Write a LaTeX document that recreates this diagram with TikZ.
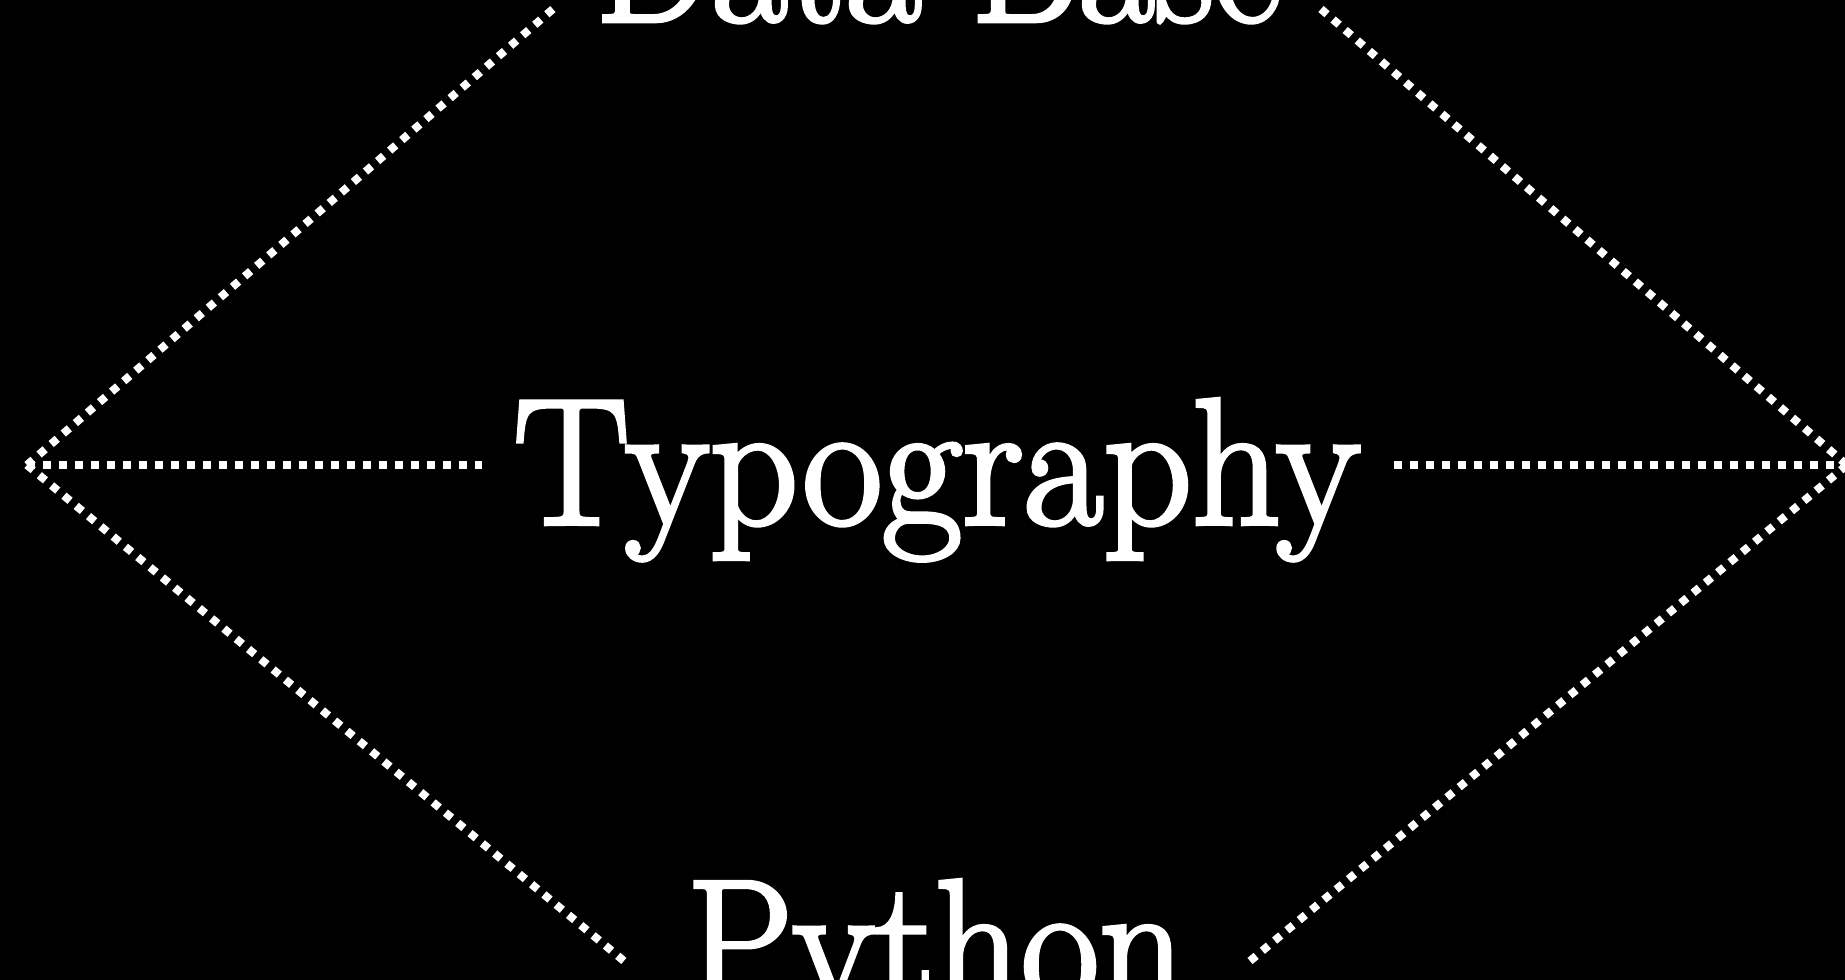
\documentclass[tikz,border=0pt]{standalone}
\usepackage{fontspec}
\newfontfamily\wordfont{Latin Modern Roman}[FakeBold=2.5]
\begin{document}
\begin{tikzpicture}[x=1pt,y=-1pt,
  dotline/.style={white,line width=8pt,dash pattern=on 8pt off 8pt,line cap=butt},
  word/.style={white,inner sep=0pt,anchor=base,font=\wordfont\fontsize{180}{200}\selectfont,transform shape}]
\fill[black] (0,0) rectangle (1845,980);
\useasboundingbox (0,0) rectangle (1845,980);
% text nodes
\node[word,xscale=0.965] (typo) at (937,524) {Typography};
\node[word,xscale=0.915] (db) at (938,21) {Data Base};
\node[word,xscale=0.94] (py) at (936,1005) {Python};
% apexes and line ends
\coordinate (L) at (27,465);
\coordinate (R) at (1847,465);
\coordinate (hl) at (482,465);
\coordinate (hr) at (1394,465);
\coordinate (ul) at (553,9);
\coordinate (ur) at (1321,9);
\coordinate (ll) at (624,961);
\coordinate (lr) at (1250,961);
% dotted connectors
\draw[dotline] (L) -- (hl);
\draw[dotline] (hr) -- (R);
\draw[dotline] (L) -- (ul);
\draw[dotline] (ur) -- (R);
\draw[dotline] (L) -- (ll);
\draw[dotline] (lr) -- (R);
\end{tikzpicture}
\end{document}
